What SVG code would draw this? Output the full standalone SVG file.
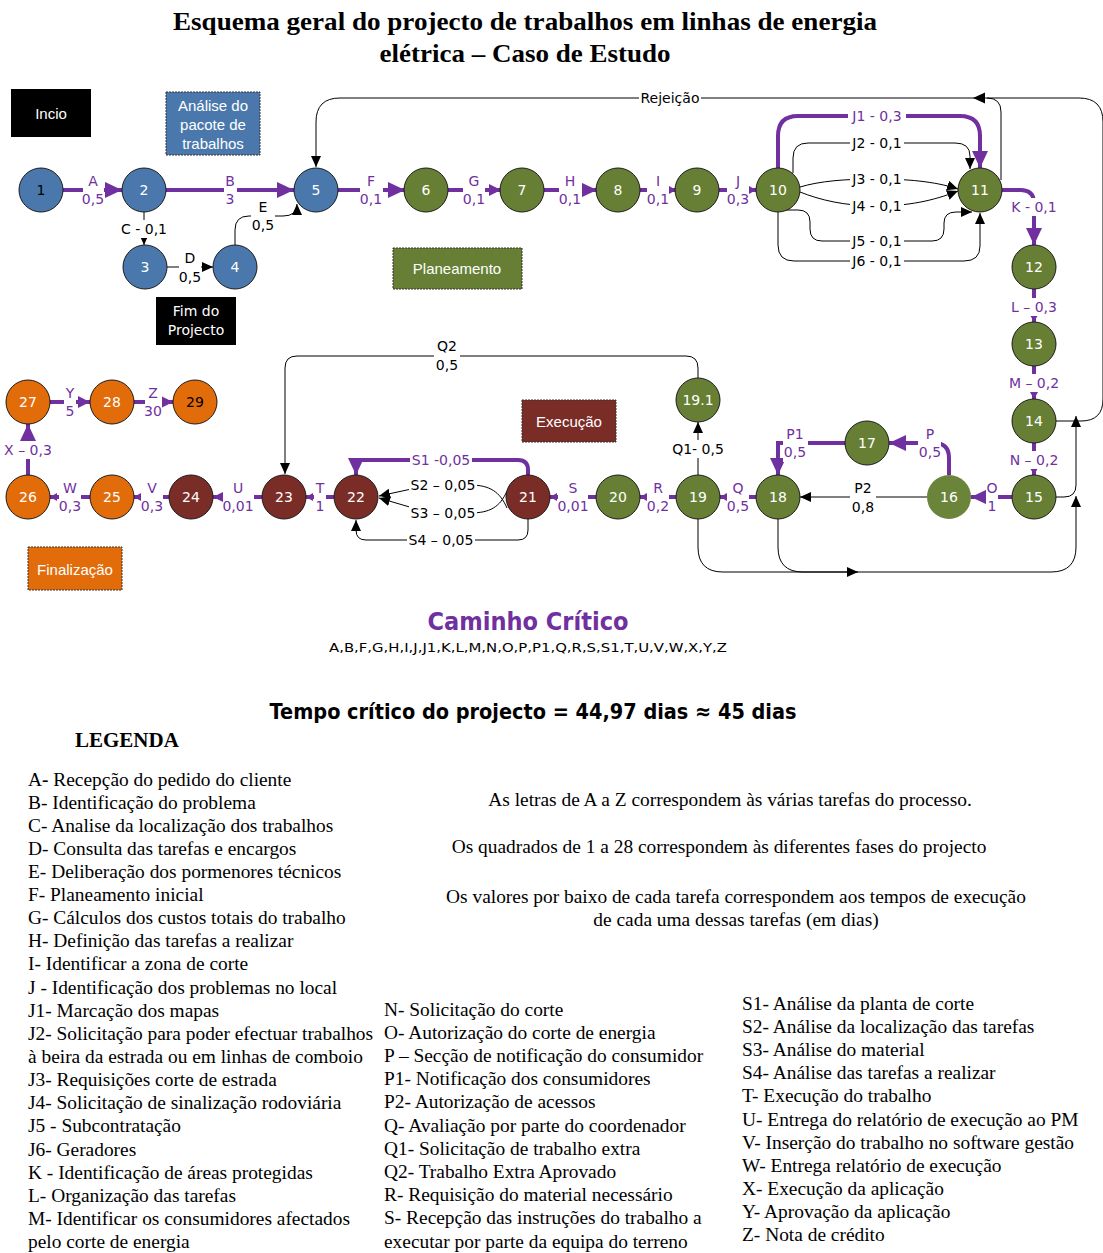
<svg xmlns="http://www.w3.org/2000/svg" width="1103" height="1253" viewBox="0 0 1103 1253">
<style>
.n circle{stroke:#1a1a1a;stroke-width:1}
.blue circle{fill:#4A78AC}
.green circle{fill:#677F35}
.red circle{fill:#7A2C27}
.orange circle{fill:#E36C0A}
.n text{fill:#fff;font-family:"DejaVu Sans",sans-serif;font-size:14px;text-anchor:middle;dominant-baseline:central}
.pe{fill:none;stroke:#7030A0;stroke-width:4}
.be{fill:none;stroke:#000;stroke-width:1}
.bg{fill:#fff}
.pl{fill:#7030A0;font-family:"DejaVu Sans",sans-serif;font-size:14px;text-anchor:middle;dominant-baseline:central}
.bl{fill:#000;font-family:"DejaVu Sans",sans-serif;font-size:14px;text-anchor:middle;dominant-baseline:central}
.box text{fill:#fff;font-family:"Liberation Sans",sans-serif;font-size:15px;text-anchor:middle;dominant-baseline:central}
.leg{font-family:"Liberation Serif",serif;font-size:19.4px;fill:#000}
.mid{font-family:"Liberation Serif",serif;font-size:19.4px;fill:#000;text-anchor:middle}
</style>
<defs>
<marker id="pb" markerUnits="userSpaceOnUse" markerWidth="18" markerHeight="18" refX="17" refY="8" orient="auto"><path d="M0,0 L17,8 L0,16 z" fill="#7030A0"/></marker>
<marker id="pm" markerUnits="userSpaceOnUse" markerWidth="14" markerHeight="14" refX="12" refY="6" orient="auto"><path d="M0,0 L12,6 L0,12 z" fill="#7030A0"/></marker>
<marker id="ps" markerUnits="userSpaceOnUse" markerWidth="9" markerHeight="9" refX="7" refY="4" orient="auto"><path d="M0,0 L7,4 L0,8 z" fill="#7030A0"/></marker>
<marker id="ba" markerUnits="userSpaceOnUse" markerWidth="12" markerHeight="12" refX="11" refY="5" orient="auto"><path d="M0,0 L11,5 L0,10 z" fill="#000"/></marker>
</defs>
<rect width="1103" height="1253" fill="#fff"/>

<g id="title" font-family="Liberation Serif, serif" font-weight="bold" font-size="26" text-anchor="middle">
<text x="525" y="30" textLength="704" lengthAdjust="spacingAndGlyphs">Esquema geral do projecto de trabalhos em linhas de energia</text>
<text x="525" y="62" textLength="291" lengthAdjust="spacingAndGlyphs">elétrica – Caso de Estudo</text>
</g>

<g id="connectors">
<!-- A -->
<path class="pe" d="M63,190 H122" marker-end="url(#pb)"/>
<rect class="bg" x="83" y="172" width="21" height="36"/>
<text class="pl" x="93" y="181">A</text><text class="pl" x="93" y="199">0,5</text>
<!-- B -->
<path class="pe" d="M166,190 H294" marker-end="url(#pb)"/>
<rect class="bg" x="224" y="172" width="13" height="36"/>
<text class="pl" x="230" y="181">B</text><text class="pl" x="230" y="199">3</text>
<!-- C -->
<path class="be" d="M144,212 V245" marker-end="url(#ba)"/>
<rect class="bg" x="120" y="220" width="50" height="18"/>
<text class="bl" x="144" y="229">C - 0,1</text>
<!-- D -->
<path class="be" d="M167,267 H213" marker-end="url(#ba)"/>
<rect class="bg" x="179" y="249" width="22" height="38"/>
<text class="bl" x="190" y="258">D</text><text class="bl" x="190" y="277">0,5</text>
<!-- E -->
<path class="be" d="M235,245 V230 Q235,216 249,216 H283 Q297,216 297,204" marker-end="url(#ba)"/>
<rect class="bg" x="251" y="198" width="24" height="36"/>
<text class="bl" x="263" y="207">E</text><text class="bl" x="263" y="225">0,5</text>
<!-- F G H I J -->
<path class="pe" d="M338,190 H405" marker-end="url(#pb)"/>
<rect class="bg" x="360" y="172" width="23" height="36"/>
<text class="pl" x="371" y="181">F</text><text class="pl" x="371" y="199">0,1</text>
<path class="pe" d="M448,190 H501" marker-end="url(#pm)"/>
<rect class="bg" x="463" y="172" width="22" height="36"/>
<text class="pl" x="474" y="181">G</text><text class="pl" x="474" y="199">0,1</text>
<path class="pe" d="M544,190 H597" marker-end="url(#pb)"/>
<rect class="bg" x="559" y="172" width="23" height="36"/>
<text class="pl" x="570" y="181">H</text><text class="pl" x="570" y="199">0,1</text>
<path class="pe" d="M640,190 H676" marker-end="url(#ps)"/>
<rect class="bg" x="647" y="172" width="22" height="36"/>
<text class="pl" x="658" y="181">I</text><text class="pl" x="658" y="199">0,1</text>
<path class="pe" d="M719,190 H756" marker-end="url(#ps)"/>
<rect class="bg" x="727" y="172" width="22" height="36"/>
<text class="pl" x="738" y="181">J</text><text class="pl" x="738" y="199">0,3</text>
<!-- J1..J6 -->
<path class="pe" d="M778,168 V136 Q778,116 798,116 H960 Q980,116 980,136 V168" marker-end="url(#pb)"/>
<rect class="bg" x="848" y="107" width="58" height="18"/>
<text class="pl" x="877" y="116">J1 - 0,3</text>
<path class="be" d="M793,173 V158 Q793,143 808,143 H955 Q970,143 970,156 V169" marker-end="url(#ba)"/>
<rect class="bg" x="850" y="134" width="54" height="18"/>
<text class="bl" x="877" y="143">J2 - 0,1</text>
<path class="be" d="M800,187 C820,181 845,179 877,179 C915,179 940,183 958,189" marker-end="url(#ba)"/>
<rect class="bg" x="850" y="170" width="54" height="18"/>
<text class="bl" x="877" y="179">J3 - 0,1</text>
<path class="be" d="M800,192 C820,200 845,206 877,206 C915,206 940,198 958,191" marker-end="url(#ba)"/>
<rect class="bg" x="850" y="197" width="54" height="18"/>
<text class="bl" x="877" y="206">J4 - 0,1</text>
<path class="be" d="M785,210 H798 Q810,210 810,222 V229 Q810,241 822,241 H932 Q944,241 944,229 V223 Q944,212 956,212 H972" marker-end="url(#ba)"/>
<rect class="bg" x="850" y="232" width="54" height="18"/>
<text class="bl" x="877" y="241">J5 - 0,1</text>
<path class="be" d="M778,212 V245 Q778,261 794,261 H964 Q980,261 980,246 V213" marker-end="url(#ba)"/>
<rect class="bg" x="850" y="252" width="54" height="18"/>
<text class="bl" x="877" y="261">J6 - 0,1</text>
<!-- Rejeição -->
<path class="be" d="M1056,421 H1081 Q1103,421 1103,399 V122 Q1103,98 1079,98 H340 Q316,98 316,122 V167" marker-end="url(#ba)"/>
<path class="be" d="M1001,180 V112 Q1001,98 987,98"/>
<path d="M973,98 L985,92.5 L985,103.5 z" fill="#000"/>
<rect class="bg" x="639" y="89" width="62" height="18"/>
<text class="bl" x="670" y="98" font-family="Liberation Sans, sans-serif">Rejeição</text>
<!-- 15 -> up, 19/18 bottom -->
<path class="be" d="M1056,497 H1064 Q1076,497 1076,485 V416" marker-end="url(#ba)"/>
<path class="be" d="M698,519 V547 Q698,572 723,572 H1051 Q1076,572 1076,547 V496" marker-end="url(#ba)"/>
<path class="be" d="M778,519 V547 Q778,572 803,572 H858" marker-end="url(#ba)"/>
<!-- K L M N -->
<path class="pe" d="M1002,190 H1020 Q1034,190 1034,203"/>
<path class="pe" d="M1034,214 V245" marker-end="url(#pb)"/>
<rect class="bg" x="1010" y="198" width="48" height="18"/>
<text class="pl" x="1034" y="207">K - 0,1</text>
<path class="pe" d="M1034,289 V322" marker-end="url(#ps)"/>
<rect class="bg" x="1008" y="298" width="52" height="18"/>
<text class="pl" x="1034" y="307">L – 0,3</text>
<path class="pe" d="M1034,366 V399" marker-end="url(#ps)"/>
<rect class="bg" x="1006" y="374" width="56" height="18"/>
<text class="pl" x="1034" y="383">M – 0,2</text>
<path class="pe" d="M1034,443 V475" marker-end="url(#ps)"/>
<rect class="bg" x="1006" y="451" width="56" height="18"/>
<text class="pl" x="1034" y="460">N – 0,2</text>
<!-- O P P1 P2 -->
<path class="pe" d="M1012,497 H971" marker-end="url(#pb)"/>
<rect class="bg" x="986" y="479" width="12" height="36"/>
<text class="pl" x="992" y="488">O</text><text class="pl" x="992" y="506">1</text>
<path class="pe" d="M949,475 V458 Q949,443 934,443 H889" marker-end="url(#pb)"/>
<rect class="bg" x="918" y="425" width="23" height="37"/>
<text class="pl" x="930" y="434">P</text><text class="pl" x="930" y="452">0,5</text>
<path class="pe" d="M845,443 H778 V475" marker-end="url(#pb)"/>
<rect class="bg" x="783" y="425" width="25" height="37"/>
<text class="pl" x="795" y="434">P1</text><text class="pl" x="795" y="452">0,5</text>
<path class="be" d="M927,497 H800" marker-end="url(#ba)"/>
<rect class="bg" x="850" y="479" width="26" height="38"/>
<text class="bl" x="863" y="488">P2</text><text class="bl" x="863" y="507">0,8</text>
<!-- Q Q1 Q2 R S -->
<path class="pe" d="M756,497 H720" marker-end="url(#ps)"/>
<rect class="bg" x="727" y="479" width="22" height="36"/>
<text class="pl" x="738" y="488">Q</text><text class="pl" x="738" y="506">0,5</text>
<path class="be" d="M698,475 V422" marker-end="url(#ba)"/>
<rect class="bg" x="670" y="440" width="56" height="18"/>
<text class="bl" x="698" y="449">Q1- 0,5</text>
<path class="be" d="M698,378 V368 Q698,356 686,356 H297 Q285,356 285,368 V474" marker-end="url(#ba)"/>
<rect class="bg" x="434" y="337" width="26" height="38"/>
<text class="bl" x="447" y="346">Q2</text><text class="bl" x="447" y="365">0,5</text>
<path class="pe" d="M676,497 H640" marker-end="url(#ps)"/>
<rect class="bg" x="647" y="479" width="22" height="36"/>
<text class="pl" x="658" y="488">R</text><text class="pl" x="658" y="506">0,2</text>
<path class="pe" d="M596,497 H550" marker-end="url(#ps)"/>
<rect class="bg" x="558" y="479" width="30" height="36"/>
<text class="pl" x="573" y="488">S</text><text class="pl" x="573" y="506">0,01</text>
<!-- S1..S4 -->
<path class="pe" d="M528,475 V470 Q528,460 518,460 H356 V475" marker-end="url(#pb)"/>
<rect class="bg" x="410" y="451" width="62" height="18"/>
<text class="pl" x="441" y="460" font-family="Liberation Sans, sans-serif">S1 -0,05</text>
<path class="be" d="M507,508 C500,492 490,485 470,485 H430 L379,496" marker-end="url(#ba)"/>
<rect class="bg" x="409" y="476" width="68" height="18"/>
<text class="bl" x="443" y="485" font-family="Liberation Sans, sans-serif">S2 – 0,05</text>
<path class="be" d="M507,491 C500,507 490,513 470,513 H430 L379,498" marker-end="url(#ba)"/>
<rect class="bg" x="409" y="504" width="68" height="18"/>
<text class="bl" x="443" y="513" font-family="Liberation Sans, sans-serif">S3 – 0,05</text>
<path class="be" d="M528,519 V530 Q528,540 518,540 H366 Q356,540 356,530 V520" marker-end="url(#ba)"/>
<rect class="bg" x="407" y="531" width="68" height="18"/>
<text class="bl" x="441" y="540" font-family="Liberation Sans, sans-serif">S4 – 0,05</text>
<!-- T U V W X Y Z -->
<path class="pe" d="M334,497 H306" marker-end="url(#ps)"/>
<rect class="bg" x="314" y="479" width="12" height="36"/>
<text class="pl" x="320" y="488">T</text><text class="pl" x="320" y="506">1</text>
<path class="pe" d="M262,497 H213" marker-end="url(#pm)"/>
<rect class="bg" x="223" y="479" width="31" height="36"/>
<text class="pl" x="238" y="488">U</text><text class="pl" x="238" y="506">0,01</text>
<path class="pe" d="M169,497 H134" marker-end="url(#ps)"/>
<rect class="bg" x="141" y="479" width="22" height="36"/>
<text class="pl" x="152" y="488">V</text><text class="pl" x="152" y="506">0,3</text>
<path class="pe" d="M90,497 H50" marker-end="url(#ps)"/>
<rect class="bg" x="59" y="479" width="22" height="36"/>
<text class="pl" x="70" y="488">W</text><text class="pl" x="70" y="506">0,3</text>
<path class="pe" d="M28,475 V424" marker-end="url(#pb)"/>
<rect class="bg" x="3" y="441" width="52" height="18"/>
<text class="pl" x="28" y="450">X – 0,3</text>
<path class="pe" d="M50,402 H90" marker-end="url(#pm)"/>
<rect class="bg" x="64" y="384" width="12" height="36"/>
<text class="pl" x="70" y="393">Y</text><text class="pl" x="70" y="411">5</text>
<path class="pe" d="M134,402 H173" marker-end="url(#pm)"/>
<rect class="bg" x="145" y="384" width="17" height="36"/>
<text class="pl" x="153" y="393">Z</text><text class="pl" x="153" y="411">30</text>
</g>

<g id="n1" class="n blue"><circle cx="41" cy="190" r="22"/><text x="41" y="190" style="fill:#000">1</text></g>
<g id="n2" class="n blue"><circle cx="144" cy="190" r="22"/><text x="144" y="190">2</text></g>
<g id="n3" class="n blue"><circle cx="145" cy="267" r="22"/><text x="145" y="267">3</text></g>
<g id="n4" class="n blue"><circle cx="235" cy="267" r="22"/><text x="235" y="267">4</text></g>
<g id="n5" class="n blue"><circle cx="316" cy="190" r="22"/><text x="316" y="190">5</text></g>
<g id="n6" class="n green"><circle cx="426" cy="190" r="22"/><text x="426" y="190">6</text></g>
<g id="n7" class="n green"><circle cx="522" cy="190" r="22"/><text x="522" y="190">7</text></g>
<g id="n8" class="n green"><circle cx="618" cy="190" r="22"/><text x="618" y="190">8</text></g>
<g id="n9" class="n green"><circle cx="697" cy="190" r="22"/><text x="697" y="190">9</text></g>
<g id="n10" class="n green"><circle cx="778" cy="190" r="22"/><text x="778" y="190">10</text></g>
<g id="n11" class="n green"><circle cx="980" cy="190" r="22"/><text x="980" y="190">11</text></g>
<g id="n12" class="n green"><circle cx="1034" cy="267" r="22"/><text x="1034" y="267">12</text></g>
<g id="n13" class="n green"><circle cx="1034" cy="344" r="22"/><text x="1034" y="344">13</text></g>
<g id="n14" class="n green"><circle cx="1034" cy="421" r="22"/><text x="1034" y="421">14</text></g>
<g id="n15" class="n green"><circle cx="1034" cy="497" r="22"/><text x="1034" y="497">15</text></g>
<g id="n16" class="n green"><circle cx="949" cy="497" r="22" style="stroke:none;fill:#6A843A"/><text x="949" y="497">16</text></g>
<g id="n17" class="n green"><circle cx="867" cy="443" r="22"/><text x="867" y="443">17</text></g>
<g id="n18" class="n green"><circle cx="778" cy="497" r="22"/><text x="778" y="497">18</text></g>
<g id="n19" class="n green"><circle cx="698" cy="497" r="22"/><text x="698" y="497">19</text></g>
<g id="n19_1" class="n green"><circle cx="698" cy="400" r="22"/><text x="698" y="400">19.1</text></g>
<g id="n20" class="n green"><circle cx="618" cy="497" r="22"/><text x="618" y="497">20</text></g>
<g id="n21" class="n red"><circle cx="528" cy="497" r="22"/><text x="528" y="497">21</text></g>
<g id="n22" class="n red"><circle cx="356" cy="497" r="22"/><text x="356" y="497">22</text></g>
<g id="n23" class="n red"><circle cx="284" cy="497" r="22"/><text x="284" y="497">23</text></g>
<g id="n24" class="n red"><circle cx="191" cy="497" r="22"/><text x="191" y="497">24</text></g>
<g id="n25" class="n orange"><circle cx="112" cy="497" r="22"/><text x="112" y="497">25</text></g>
<g id="n26" class="n orange"><circle cx="28" cy="497" r="22"/><text x="28" y="497">26</text></g>
<g id="n27" class="n orange"><circle cx="28" cy="402" r="22"/><text x="28" y="402">27</text></g>
<g id="n28" class="n orange"><circle cx="112" cy="402" r="22"/><text x="112" y="402">28</text></g>
<g id="n29" class="n orange"><circle cx="195" cy="402" r="22"/><text x="195" y="402" style="fill:#000">29</text></g>

<g id="box-incio" class="box"><rect x="11" y="89" width="80" height="48" fill="#000"/><text x="51" y="113">Incio</text></g>
<g id="box-analise" class="box"><rect x="166" y="92" width="94" height="63" fill="#4A78AC" stroke="#333" stroke-dasharray="2,1"/><text x="213" y="105">Análise do</text><text x="213" y="124">pacote de</text><text x="213" y="143">trabalhos</text></g>
<g id="box-fim" class="box"><rect x="156" y="297" width="80" height="48" fill="#000"/><text x="196" y="311" style="font-family:'DejaVu Sans',sans-serif;font-size:14px">Fim do</text><text x="196" y="330" style="font-family:'DejaVu Sans',sans-serif;font-size:14px">Projecto</text></g>
<g id="box-plan" class="box"><rect x="393" y="248" width="129" height="41" fill="#677F35" stroke="#333" stroke-dasharray="2,1"/><text x="457" y="268">Planeamento</text></g>
<g id="box-exec" class="box"><rect x="522" y="400" width="94" height="42" fill="#7A2C27" stroke="#333" stroke-dasharray="2,1"/><text x="569" y="421">Execução</text></g>
<g id="box-final" class="box"><rect x="28" y="547" width="94" height="43" fill="#E36C0A" stroke="#333" stroke-dasharray="2,1"/><text x="75" y="569">Finalização</text></g>

<g id="critical" font-family="DejaVu Sans, sans-serif" text-anchor="middle">
<text x="528" y="630" font-size="24" font-weight="bold" fill="#7030A0" textLength="201" lengthAdjust="spacingAndGlyphs">Caminho Crítico</text>
<text x="528" y="652" font-size="13" fill="#000" textLength="398" lengthAdjust="spacingAndGlyphs">A,B,F,G,H,I,J,J1,K,L,M,N,O,P,P1,Q,R,S,S1,T,U,V,W,X,Y,Z</text>
<text x="533" y="719" font-size="22" font-weight="bold" fill="#000" textLength="527" lengthAdjust="spacingAndGlyphs">Tempo crítico do projecto = 44,97 dias ≈ 45 dias</text>
</g>

<g id="legend">
<text x="75" y="747" font-family="Liberation Serif, serif" font-weight="bold" font-size="21">LEGENDA</text>
<text class="leg" x="28" y="786">A<tspan font-weight="bold">-</tspan> Recepção do pedido do cliente</text>
<text class="leg" x="28" y="809">B- Identificação do problema</text>
<text class="leg" x="28" y="832">C- Analise da localização dos trabalhos</text>
<text class="leg" x="28" y="855">D- Consulta das tarefas e encargos</text>
<text class="leg" x="28" y="878">E- Deliberação dos pormenores técnicos</text>
<text class="leg" x="28" y="901">F- Planeamento inicial</text>
<text class="leg" x="28" y="924">G- Cálculos dos custos totais do trabalho</text>
<text class="leg" x="28" y="947">H- Definição das tarefas a realizar</text>
<text class="leg" x="28" y="970">I- Identificar a zona de corte</text>
<text class="leg" x="28" y="994">J - Identificação dos problemas no local</text>
<text class="leg" x="28" y="1017">J1- Marcação dos mapas</text>
<text class="leg" x="28" y="1040">J2- Solicitação para poder efectuar trabalhos</text>
<text class="leg" x="28" y="1063">à beira da estrada ou em linhas de comboio</text>
<text class="leg" x="28" y="1086">J3- Requisições corte de estrada</text>
<text class="leg" x="28" y="1109">J4- Solicitação de sinalização rodoviária</text>
<text class="leg" x="28" y="1132">J5 - Subcontratação</text>
<text class="leg" x="28" y="1156">J6- Geradores</text>
<text class="leg" x="28" y="1179">K - Identificação de áreas protegidas</text>
<text class="leg" x="28" y="1202">L- Organização das tarefas</text>
<text class="leg" x="28" y="1225">M- Identificar os consumidores afectados</text>
<text class="leg" x="28" y="1248">pelo corte de energia</text>

<text class="leg" x="384" y="1016">N- Solicitação do corte</text>
<text class="leg" x="384" y="1039">O- Autorização do corte de energia</text>
<text class="leg" x="384" y="1062">P – Secção de notificação do consumidor</text>
<text class="leg" x="384" y="1085">P1- Notificação dos consumidores</text>
<text class="leg" x="384" y="1108">P2- Autorização de acessos</text>
<text class="leg" x="384" y="1132">Q- Avaliação por parte do coordenador</text>
<text class="leg" x="384" y="1155">Q1- Solicitação de trabalho extra</text>
<text class="leg" x="384" y="1178">Q2- Trabalho Extra Aprovado</text>
<text class="leg" x="384" y="1201">R- Requisição do material necessário</text>
<text class="leg" x="384" y="1224">S- Recepção das instruções do trabalho a</text>
<text class="leg" x="384" y="1248">executar por parte da equipa do terreno</text>

<text class="leg" x="742" y="1010">S1- Análise da planta de corte</text>
<text class="leg" x="742" y="1033">S2- Análise da localização das tarefas</text>
<text class="leg" x="742" y="1056">S3- Análise do material</text>
<text class="leg" x="742" y="1079">S4- Análise das tarefas a realizar</text>
<text class="leg" x="742" y="1102">T- Execução do trabalho</text>
<text class="leg" x="742" y="1126">U- Entrega do relatório de execução ao PM</text>
<text class="leg" x="742" y="1149">V- Inserção do trabalho no software gestão</text>
<text class="leg" x="742" y="1172">W- Entrega relatório de execução</text>
<text class="leg" x="742" y="1195">X- Execução da aplicação</text>
<text class="leg" x="742" y="1218">Y- Aprovação da aplicação</text>
<text class="leg" x="742" y="1241">Z- Nota de crédito</text>

<text class="mid" x="730" y="806">As letras de A a Z correspondem às várias tarefas do processo.</text>
<text class="mid" x="719" y="853">Os quadrados de 1 a 28 correspondem às diferentes fases do projecto</text>
<text class="mid" x="736" y="903">Os valores por baixo de cada tarefa correspondem aos tempos de execução</text>
<text class="mid" x="736" y="926">de cada uma dessas tarefas (em dias)</text>
</g>
</svg>
